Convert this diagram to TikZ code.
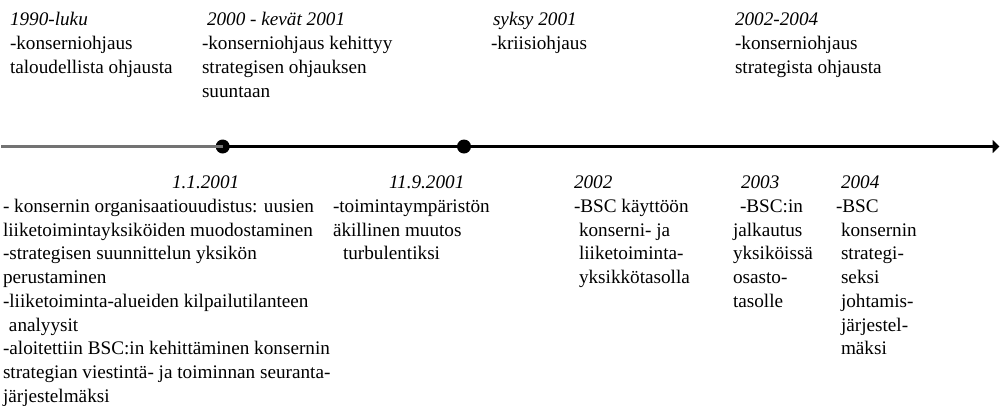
\documentclass[tikz,border=0pt]{standalone}
\usepackage{fontspec}
\setmainfont{Liberation Serif}
\usetikzlibrary{arrows.meta}
\newcommand\tline[4]{\node[txt] (#1) at (#2,#3) {#4};}
\newcommand\headline[4]{\node[txt,font=\fontsize{19.2}{24}\selectfont\itshape] (#1) at (#2,#3) {#4};}
\begin{document}
\begin{tikzpicture}[x=1pt,y=-1pt,
  txt/.style={anchor=base west,inner sep=0pt,outer sep=0pt,font=\fontsize{19.2}{24}\selectfont},
  dot/.style={circle,fill=black,draw=none,minimum size=14pt,inner sep=0pt},
  grayline/.style={draw=black!55,line width=2.2pt},
  blackline/.style={draw=black,line width=2.2pt},
]
\useasboundingbox (0,0) rectangle (1000,405);
% timeline
\coordinate (start) at (1,146.5);
\node[dot] (d1) at (222.7,146.5) {};
\node[dot] (d2) at (464,146.5) {};
\coordinate (end) at (999.5,146.5);
\draw[grayline] (start) -- (d1.center);
\draw[blackline] (d1.center) -- (d2.center);
\draw[blackline,-{Triangle[length=7pt,width=13pt]}] (d2.center) -- (end);
% top texts
\def\tyA{25}\def\tyB{49}\def\tyC{73}\def\tyD{97}
\headline{a0}{10}{\tyA}{1990-luku}
\tline{a1}{10}{\tyB}{-konserniohjaus}
\tline{a2}{10}{\tyC}{taloudellista ohjausta}
\headline{b0}{207}{\tyA}{2000 - kevät 2001}
\tline{b1}{202}{\tyB}{-konserniohjaus kehittyy}
\tline{b2}{202}{\tyC}{strategisen ohjauksen}
\tline{b3}{202}{\tyD}{suuntaan}
\headline{c0}{493}{\tyA}{syksy 2001}
\tline{c1}{491}{\tyB}{-kriisiohjaus}
\headline{dd0}{735}{\tyA}{2002-2004}
\tline{dd1}{735}{\tyB}{-konserniohjaus}
\tline{dd2}{735}{\tyC}{strategista ohjausta}
% bottom texts
\def\byA{188.5}\def\byB{212.25}\def\byC{236}\def\byD{259.75}\def\byE{283.5}
\def\byF{307.25}\def\byG{331}\def\byH{354.75}\def\byI{378.5}\def\byJ{402.25}
\headline{e0}{172}{\byA}{1.1.2001}
\tline{e1}{3}{\byB}{- konsernin organisaatiouudistus: uusien}
\tline{e2}{3}{\byC}{liiketoimintayksiköiden muodostaminen}
\tline{e3}{3}{\byD}{-strategisen suunnittelun yksikön}
\tline{e4}{3}{\byE}{perustaminen}
\tline{e5}{3}{\byF}{-liiketoiminta-alueiden kilpailutilanteen}
\tline{e6}{9}{\byG}{analyysit}
\tline{e7}{3}{\byH}{-aloitettiin BSC:in kehittäminen konsernin}
\tline{e8}{3}{\byI}{strategian viestintä- ja toiminnan seuranta-}
\tline{e9}{3}{\byJ}{järjestelmäksi}
\headline{f0}{389}{\byA}{11.9.2001}
\tline{f1}{333}{\byB}{-toimintaympäristön}
\tline{f2}{333}{\byC}{äkillinen muutos}
\tline{f3}{343}{\byD}{turbulentiksi}
\headline{g0}{574}{\byA}{2002}
\tline{g1}{574}{\byB}{-BSC käyttöön}
\tline{g2}{579}{\byC}{konserni- ja}
\tline{g3}{579}{\byD}{liiketoiminta-}
\tline{g4}{579}{\byE}{yksikkötasolla}
\headline{h0}{741}{\byA}{2003}
\tline{h1}{740}{\byB}{-BSC:in}
\tline{h2}{733}{\byC}{jalkautus}
\tline{h3}{733}{\byD}{yksiköissä}
\tline{h4}{733}{\byE}{osasto-}
\tline{h5}{733}{\byF}{tasolle}
\headline{i0}{841}{\byA}{2004}
\tline{i1}{836}{\byB}{-BSC}
\tline{i2}{841}{\byC}{konsernin}
\tline{i3}{841}{\byD}{strategi-}
\tline{i4}{841}{\byE}{seksi}
\tline{i5}{841}{\byF}{johtamis-}
\tline{i6}{841}{\byG}{järjestel-}
\tline{i7}{841}{\byH}{mäksi}
\end{tikzpicture}
\end{document}
